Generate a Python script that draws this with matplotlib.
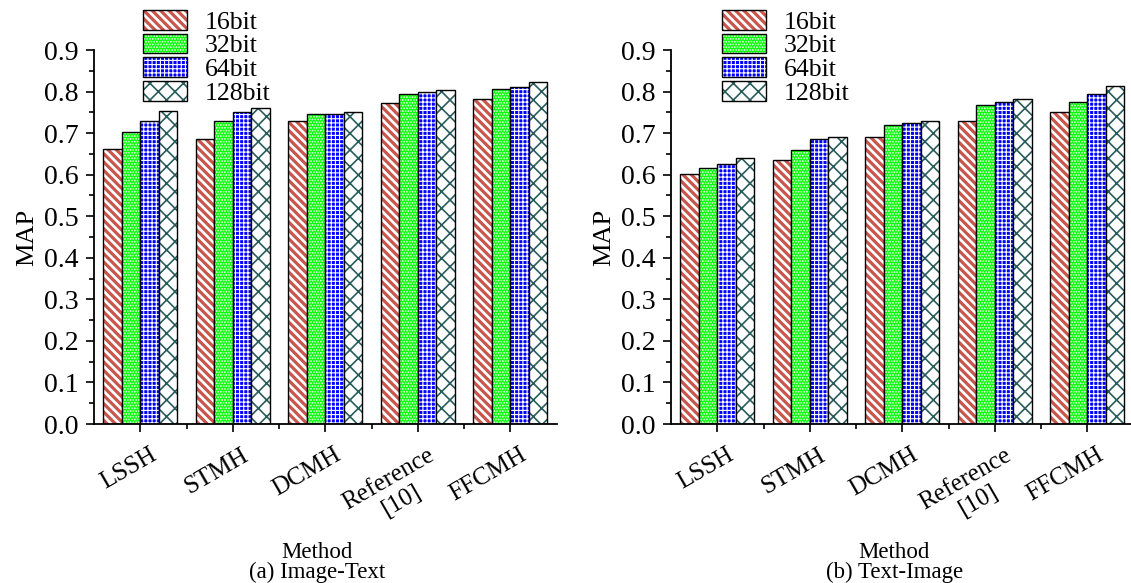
import numpy as np
import matplotlib
matplotlib.use('Agg')
import matplotlib.pyplot as plt
import matplotlib.transforms as mtransforms
from matplotlib.patches import Patch, Rectangle
from matplotlib.legend_handler import HandlerTuple
from matplotlib.ticker import MultipleLocator, FixedLocator

plt.rcParams['font.family'] = ['Liberation Serif', 'DejaVu Serif']
plt.rcParams['hatch.linewidth'] = 1.2

methods = ['LSSH', 'STMH', 'DCMH', 'Reference\n[10]', 'FFCMH']
bits = ['16bit', '32bit', '64bit', '128bit']

# MAP, Image-Text
img_txt = {
    '16bit':  [0.662, 0.685, 0.730, 0.772, 0.782],
    '32bit':  [0.702, 0.730, 0.745, 0.793, 0.807],
    '64bit':  [0.730, 0.751, 0.745, 0.800, 0.812],
    '128bit': [0.754, 0.761, 0.750, 0.804, 0.822],
}
# MAP, Text-Image
txt_img = {
    '16bit':  [0.602, 0.635, 0.691, 0.730, 0.751],
    '32bit':  [0.616, 0.660, 0.720, 0.768, 0.775],
    '64bit':  [0.626, 0.686, 0.725, 0.775, 0.795],
    '128bit': [0.639, 0.691, 0.729, 0.782, 0.814],
}

# (facecolor, hatch, hatch colour, hatch linewidth)
styles = {
    '16bit':  ('white', '\\\\\\\\', '#c8564c', 2.3),
    '32bit':  ('#00ff00', '......', 'white', 0.9),
    '64bit':  ('#0000ff', '++++', 'white', 0.8),
    '128bit': ('white', 'xx', '#2a5c5c', 1.2),
}


def hatch_lw(p, lw):
    # hatch width per patch: rcParams are read when the patch is drawn
    if hasattr(p, 'set_hatch_linewidth'):
        p.set_hatch_linewidth(lw)
    orig = p.draw

    def draw(renderer):
        with plt.rc_context({'hatch.linewidth': lw}):
            orig(renderer)
    p.draw = draw


W, H = 1131, 583
fig = plt.figure(figsize=(W / 100, H / 100), dpi=100)
ax_w = 462.5 / W
ax_b = 1 - 424 / H
ax_h = 374 / H
axes = [fig.add_axes([94 / W, ax_b, ax_w, ax_h]),
        fig.add_axes([671 / W, ax_b, ax_w, ax_h])]
captions = ['(a) Image-Text', '(b) Text-Image']
legend_x = [0.106, 0.110]

x = np.arange(1, len(methods) + 1)
bw = 0.2

for k, (ax, data) in enumerate(zip(axes, [img_txt, txt_img])):
    handles = []
    for i, b in enumerate(bits):
        fc, hatch, hc, hlw = styles[b]
        pos = x + (i - 1.5) * bw
        bars = ax.bar(pos, data[b], bw, color=fc, edgecolor=hc, hatch=hatch, linewidth=0)
        for p in bars:
            hatch_lw(p, hlw)
        ax.bar(pos, data[b], bw, facecolor='none', edgecolor='black', linewidth=1.0)
        h1 = Patch(facecolor=fc, edgecolor=hc, hatch=hatch, linewidth=0)
        h2 = Patch(facecolor='none', edgecolor='black', linewidth=1.0)
        handles.append((h1, h2))

    ax.set_xlim(0.5, 5.5)
    ax.set_ylim(0, 0.9)
    ax.yaxis.set_major_locator(MultipleLocator(0.1))
    ax.yaxis.set_minor_locator(MultipleLocator(0.05))
    ax.yaxis.set_major_formatter(plt.FuncFormatter(lambda v, p: '%.1f' % v))
    ax.set_xticks(x)
    ax.set_xticklabels([])
    ax.xaxis.set_minor_locator(FixedLocator(x[:-1] + 0.5))
    # rotated category labels, placed below the ticks
    off = mtransforms.ScaledTranslation(9 / 100, -20 / 100, fig.dpi_scale_trans)
    for xi, m in zip(x, methods):
        ax.text(xi, 0, m, transform=ax.get_xaxis_transform() + off, rotation=30,
                ha='right', va='top', rotation_mode='anchor', multialignment='center',
                fontsize=18)
    ax.tick_params(axis='both', which='major', direction='out', length=6, width=1.2)
    ax.tick_params(axis='y', which='major', pad=5, labelsize=20)
    ax.tick_params(axis='both', which='minor', direction='out', length=3.5, width=1.2)
    for s in ['top', 'right']:
        ax.spines[s].set_visible(False)
    for s in ['left', 'bottom']:
        ax.spines[s].set_linewidth(1.3)
    ax.set_ylabel('MAP', fontsize=19, labelpad=4)

    leg = ax.legend(handles, bits, handler_map={tuple: HandlerTuple(ndivide=1, pad=0)},
                    loc='upper left', bbox_to_anchor=(legend_x[k], 1.107), frameon=False,
                    fontsize=18.5, handlelength=1.7, handleheight=0.8, labelspacing=0.0,
                    handletextpad=0.7, borderpad=0, borderaxespad=0)
    for art in leg.findobj(Rectangle):
        if art.get_hatch():
            for b in bits:
                if styles[b][1] == art.get_hatch():
                    hatch_lw(art, styles[b][3])

    pos = ax.get_position()
    cx = pos.x0 + pos.width / 2 - 8 / W
    fig.text(cx, 1 - 558 / H, 'Method', ha='center', va='baseline', fontsize=16.5)
    fig.text(cx, 1 - 578 / H, captions[k], ha='center', va='baseline', fontsize=16.5)

fig.savefig('out.png', dpi=100)
